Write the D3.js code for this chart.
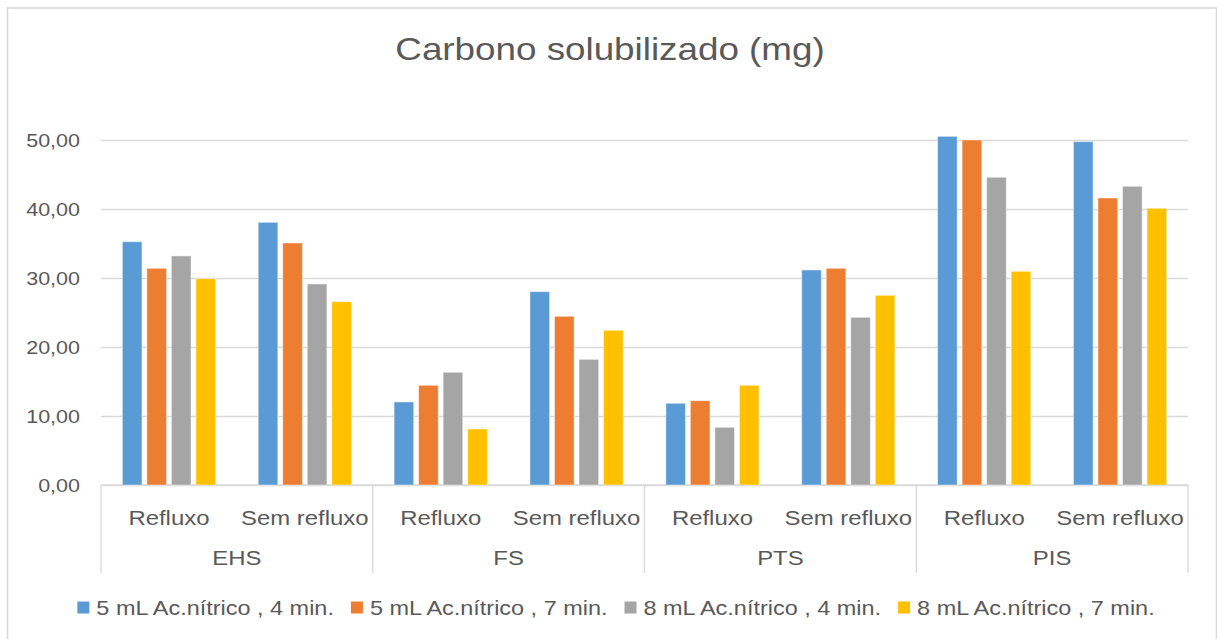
<!DOCTYPE html>
<html>
<head>
<meta charset="utf-8">
<script src="https://cdn.jsdelivr.net/npm/d3@7"></script>
<style>
  body { margin: 0; background: #fff; }
  text { font-family: "Liberation Sans", Arial, sans-serif; fill: #595959; }
</style>
</head>
<body>
<div id="chart"></div>
<script>
const groups = ["EHS", "FS", "PTS", "PIS"];
const subgroups = ["Refluxo", "Sem refluxo"];
const seriesNames = [
  "5 mL Ac.nítrico , 4 min.",
  "5 mL Ac.nítrico , 7 min.",
  "8 mL Ac.nítrico , 4 min.",
  "8 mL Ac.nítrico , 7 min.",
];
// values per category in order EHS/Refluxo, EHS/Sem refluxo, FS/..., PTS/..., PIS/...
const acid5min4 = [35.26, 38.07, 12.03, 28.02, 11.84, 31.16, 50.53, 49.76];
const acid5min7 = [31.4, 35.07, 14.45, 24.45, 12.22, 31.4, 50.0, 41.6];
const acid8min4 = [33.2, 29.13, 16.33, 18.21, 8.36, 24.3, 44.6, 43.29];
const acid8min7 = [29.9, 26.57, 8.12, 22.42, 14.45, 27.49, 30.97, 40.1];
const yTicks = [0, 10, 20, 30, 40, 50];
const colors = ["#5b9bd5", "#ed7d31", "#a5a5a5", "#ffc000"];

const seriesValues = [acid5min4, acid5min7, acid8min4, acid8min7];
const W = 1217, H = 639;
const SX = 1.15; // text in the picture is a bit wider than it is tall

const svg = d3.select("#chart").append("svg").attr("width", W).attr("height", H);

svg.append("rect")
  .attr("x", 7.5).attr("y", 8)
  .attr("width", 1209).attr("height", 640)
  .attr("fill", "#fff")
  .attr("stroke", "#d9d9d9")
  .attr("stroke-width", 1.6);

const x0 = d3.scaleBand().domain(groups).range([101, 1188]);
const xs = d3.scaleBand().domain(subgroups).range([0, x0.bandwidth()]);
const x1 = d3.scaleBand().domain(seriesNames)
  .range([xs.bandwidth() * 0.157, xs.bandwidth() * 0.843])
  .paddingInner(0.2);
const y = d3.scaleLinear().domain([0, 50]).range([485, 140]);

const placeText = (sel, px, py) =>
  sel.attr("x", 0).attr("y", 0).attr("transform", `translate(${px},${py}) scale(${SX},1)`);

// title
svg.append("text")
  .attr("text-anchor", "middle")
  .style("font-size", "32px")
  .text("Carbono solubilizado (mg)")
  .call(placeText, 610, 60);

// y axis with gridlines
const yAxis = svg.append("g")
  .attr("transform", "translate(101,0)")
  .call(d3.axisLeft(y).tickValues(yTicks).tickSize(-1087)
    .tickFormat((d) => d3.format(".2f")(d).replace(".", ",")));
yAxis.select(".domain").remove();
yAxis.selectAll(".tick line").attr("stroke", "#d9d9d9").attr("stroke-width", 1.3);
yAxis.selectAll(".tick text")
  .attr("x", -21 / SX)
  .attr("dy", "0.35em")
  .attr("transform", `scale(${SX},1)`)
  .style("font-size", "18.7px")
  .attr("fill", "#595959");

// category axis lines
svg.append("line")
  .attr("x1", 101).attr("x2", 1188)
  .attr("y1", y(0)).attr("y2", y(0))
  .attr("stroke", "#d9d9d9").attr("stroke-width", 1.5);
svg.selectAll(".sep")
  .data([...groups.map((g) => x0(g)), x0.range()[1]])
  .join("line")
  .attr("class", "sep")
  .attr("x1", (d) => d).attr("x2", (d) => d)
  .attr("y1", y(0)).attr("y2", 573)
  .attr("stroke", "#d9d9d9").attr("stroke-width", 1.3);

// bars
const cells = [];
groups.forEach((g, gi) => {
  subgroups.forEach((s, si) => {
    const idx = gi * subgroups.length + si;
    seriesNames.forEach((name, k) => {
      cells.push({ g, s, name, k, value: seriesValues[k][idx] });
    });
  });
});

svg.append("g")
  .selectAll("rect")
  .data(cells)
  .join("rect")
  .attr("x", (d) => x0(d.g) + xs(d.s) + x1(d.name))
  .attr("y", (d) => y(d.value))
  .attr("width", x1.bandwidth())
  .attr("height", (d) => y(0) - y(d.value))
  .attr("fill", (d) => colors[d.k])
  .attr("stroke", "#ffffff")
  .attr("stroke-opacity", 0.45)
  .attr("stroke-width", 1);

// category labels
groups.forEach((g) => {
  subgroups.forEach((s) => {
    svg.append("text")
      .attr("text-anchor", "middle")
      .style("font-size", "20.8px")
      .text(s)
      .call(placeText, x0(g) + xs(s) + xs.bandwidth() / 2, 525);
  });
  svg.append("text")
    .attr("text-anchor", "middle")
    .style("font-size", "20.8px")
    .text(g)
    .call(placeText, x0(g) + x0.bandwidth() / 2, 565);
});

// legend
const legend = svg.append("g");
const items = legend.selectAll("g")
  .data(seriesNames)
  .join("g");
items.append("rect")
  .attr("width", 12).attr("height", 12)
  .attr("y", -6)
  .attr("fill", (d, i) => colors[i]);
items.append("text")
  .style("font-size", "20.4px")
  .text((d) => d)
  .each(function () {
    d3.select(this).call(placeText, 19, 7.2);
  });
let cursor = 0;
items.each(function () {
  const g = d3.select(this);
  const tw = g.select("text").node().getComputedTextLength() * SX;
  g.attr("data-x", cursor);
  cursor += 19 + tw + 17;
});
const total = cursor - 17;
const start = 616 - total / 2;
items.attr("transform", function () {
  return `translate(${start + +this.getAttribute("data-x")},607.5)`;
});
</script>
</body>
</html>
